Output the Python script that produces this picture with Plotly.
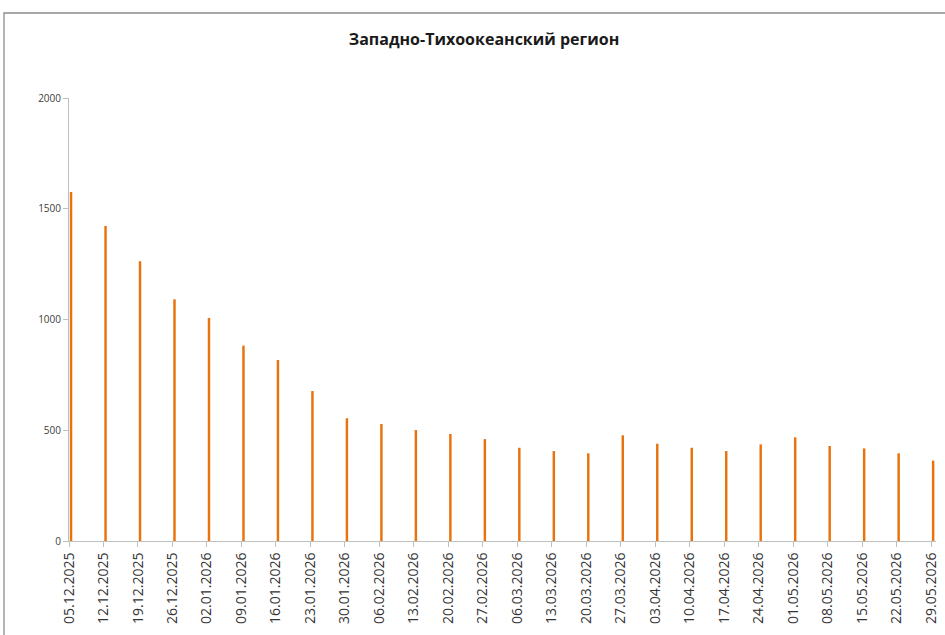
import plotly.graph_objects as go
import pandas as pd

dates = ["05.12.2025", "12.12.2025", "19.12.2025", "26.12.2025", "02.01.2026",
         "09.01.2026", "16.01.2026", "23.01.2026", "30.01.2026", "06.02.2026",
         "13.02.2026", "20.02.2026", "27.02.2026", "06.03.2026", "13.03.2026",
         "20.03.2026", "27.03.2026", "03.04.2026", "10.04.2026", "17.04.2026",
         "24.04.2026", "01.05.2026", "08.05.2026", "15.05.2026", "22.05.2026",
         "29.05.2026"]
values = [1576, 1422, 1263, 1091, 1007, 882, 817, 677, 554, 528, 501, 483, 460,
          421, 406, 396, 477, 439, 421, 406, 436, 468, 429, 418, 396, 363]

title = "Западно-Тихоокеанский регион"
y_ticks = [0, 500, 1000, 1500, 2000]

dt = pd.to_datetime(dates, format="%d.%m.%Y")
bar_x = [d.strftime("%Y-%m-%d") + " 10:00" for d in dt]
tick_x = [d.strftime("%Y-%m-%d") for d in dt]

fig = go.Figure()
fig.add_trace(go.Bar(
    x=bar_x, y=values,
    width=0.5 * 24 * 3600 * 1000,
    marker=dict(color="#E8730E", line=dict(width=0)),
    hoverinfo="skip",
))

W, H = 945, 635
L, R, T, B = 69, 9, 98, 94
pw, ph = W - L - R, H - T - B

fig.update_layout(
    width=W, height=H,
    margin=dict(l=L, r=R, t=T, b=B, autoexpand=False),
    paper_bgcolor="white", plot_bgcolor="white",
    showlegend=False,
    font=dict(family="Open Sans", color="#404040"),
    title=dict(text="<b>" + title + "</b>", x=484 / W, xanchor="center",
               y=1 - 39 / H, yanchor="middle",
               font=dict(size=16, color="#1a1a1a", family="Open Sans")),
    xaxis=dict(
        type="date", automargin=False,
        range=["2025-12-05", "2026-05-30"],
        tickmode="array", tickvals=tick_x, ticktext=dates, tickangle=-90,
        tickfont=dict(size=14, color="#333333"),
        showline=True, linecolor="#BFBFBF", linewidth=1,
        ticks="outside", ticklen=5, tickcolor="#BFBFBF",
        showgrid=False, zeroline=False,
    ),
    yaxis=dict(
        range=[0, 2000], tickvals=y_ticks, automargin=False,
        tickfont=dict(size=10, color="#404040"),
        showline=True, linecolor="#BFBFBF", linewidth=1,
        ticks="outside", ticklen=5, tickcolor="#BFBFBF",
        showgrid=False, zeroline=False,
    ),
    shapes=[dict(type="rect", xref="paper", yref="paper",
                 x0=(4 - L) / pw, x1=(W + 20 - L) / pw,
                 y0=-(H + 20 - T - ph) / ph - 1, y1=(H - B - 13) / ph,
                 line=dict(color="#8C8C8C", width=1.3), fillcolor="rgba(0,0,0,0)")],
)

fig.write_html(
    "out.html",
    config={"displayModeBar": False},
    post_script="document.body.style.margin='0';document.body.style.padding='0';",
)
